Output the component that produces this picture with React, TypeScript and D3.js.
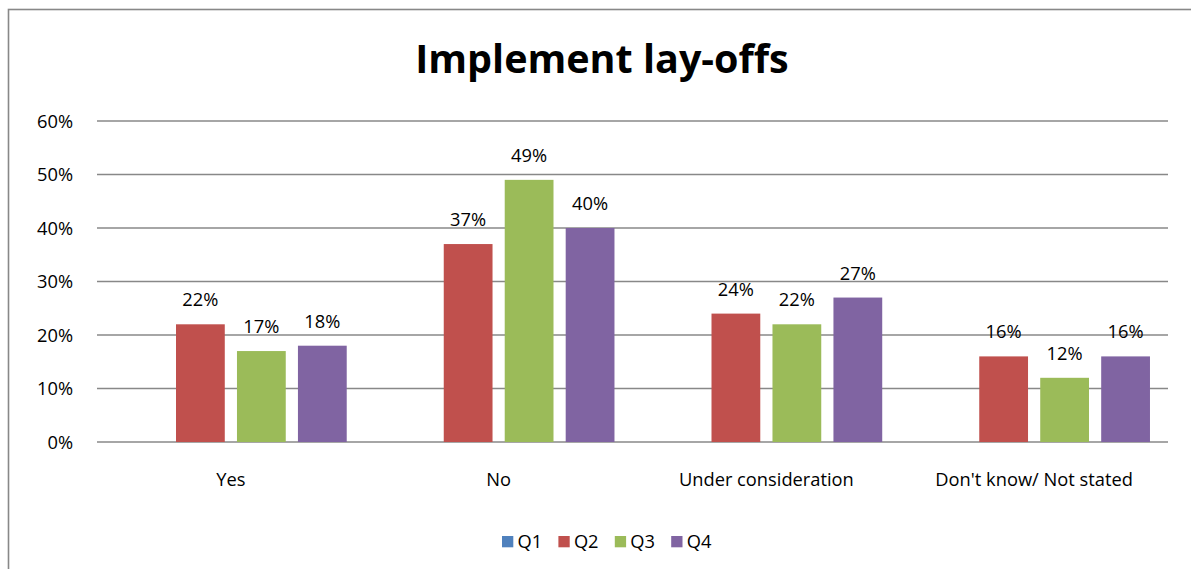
import React from "react";
import * as d3 from "d3";

const categories = ["Yes", "No", "Under consideration", "Don't know/ Not stated"];
const seriesNames = ["Q1", "Q2", "Q3", "Q4"];
const seriesColors = ["#4F81BD", "#C0504D", "#9BBB59", "#8064A2"];
// Percent values per series, one entry per category (Q1 has no data)
const q1: (number | null)[] = [null, null, null, null];
const q2: (number | null)[] = [22, 37, 24, 16];
const q3: (number | null)[] = [17, 49, 22, 12];
const q4: (number | null)[] = [18, 40, 27, 16];
const seriesValues = [q1, q2, q3, q4];
const yTicks = [0, 10, 20, 30, 40, 50, 60];
const title = "Implement lay-offs";

const W = 1191;
const H = 569;
const FONT = "'Open Sans', 'DejaVu Sans', sans-serif";
const LABEL_SIZE = 18.3;

export default function App() {
  const plotLeft = 97;
  const plotRight = 1168;
  const plotTop = 121;
  const plotBottom = 442;

  const x0 = d3.scaleBand<string>().domain(categories).range([plotLeft, plotRight]).padding(0);
  const groupPad = (x0.bandwidth() - 231.7) / 2;
  const x1 = d3
    .scaleBand<string>()
    .domain(seriesNames)
    .range([groupPad, x0.bandwidth() - groupPad])
    .paddingInner(0.2)
    .paddingOuter(0);
  const y = d3.scaleLinear().domain([0, 60]).range([plotBottom, plotTop]);

  const legendStart = 502;
  const legendStep = 56.4;

  return (
    <svg
      width={W}
      height={H}
      style={{ position: "absolute", left: 0, top: 0, background: "#fff" }}
      fontFamily={FONT}
    >
      <rect x={0} y={0} width={W} height={H} fill="#fff" />
      {/* chart frame, running past the right and bottom edges */}
      <rect x={8.5} y={9.5} width={W + 20} height={H + 20} fill="none" stroke="#888" strokeWidth={1.6} />

      <text x={602} y={72.5} textAnchor="middle" fontSize={39.5} fontWeight="bold" fill="#000">
        {title}
      </text>

      {/* gridlines and y labels */}
      {yTicks.map((t) => (
        <g key={t}>
          <line x1={plotLeft} x2={plotRight} y1={y(t)} y2={y(t)} stroke="#888" strokeWidth={1.6} />
          <text x={73} y={y(t) + 6.5} textAnchor="end" fontSize={LABEL_SIZE} fill="#000">
            {t}%
          </text>
        </g>
      ))}

      {/* bars with value labels */}
      {categories.map((c, ci) => (
        <g key={c} transform={`translate(${x0(c)},0)`}>
          {seriesNames.map((s, si) => {
            const v = seriesValues[si][ci];
            if (v == null) return null;
            const bx = x1(s)!;
            return (
              <g key={s}>
                <rect
                  x={bx}
                  y={y(v)}
                  width={x1.bandwidth()}
                  height={y(0) - y(v)}
                  fill={seriesColors[si]}
                />
                <text
                  x={bx + x1.bandwidth() / 2}
                  y={y(v) - 18}
                  textAnchor="middle"
                  fontSize={LABEL_SIZE}
                  fill="#000"
                >
                  {v}%
                </text>
              </g>
            );
          })}
          <text x={x0.bandwidth() / 2} y={486} textAnchor="middle" fontSize={LABEL_SIZE} fill="#000">
            {c}
          </text>
        </g>
      ))}

      {/* legend */}
      {seriesNames.map((s, i) => (
        <g key={s} transform={`translate(${legendStart + i * legendStep},0)`}>
          <rect x={0} y={536} width={11.3} height={11.3} fill={seriesColors[i]} />
          <text x={15.5} y={547.5} fontSize={LABEL_SIZE} fill="#000">
            {s}
          </text>
        </g>
      ))}
    </svg>
  );
}
